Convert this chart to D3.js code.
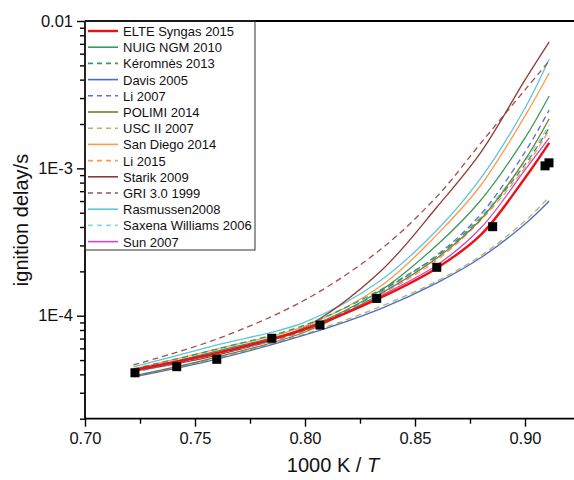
<!DOCTYPE html>
<html>
<head>
<meta charset="utf-8">
<script src="https://cdn.jsdelivr.net/npm/d3@7"></script>
<style>
  body { margin: 0; background: #fff; }
  text { font-family: "Liberation Sans", Arial, sans-serif; }
</style>
</head>
<body>
<div class="canvas"></div>
<script>
// 1000 K / T grid the model curves were read at
const invT = [0.722, 0.76, 0.80, 0.834, 0.86, 0.88, 0.90, 0.911];

// ignition delay (s) per mechanism
const elte2015     = [4.28e-5, 5.58e-5, 8.12e-5, 1.32e-4, 2.11e-4, 3.55e-4, 8.61e-4, 1.49e-3];
const nuig2010     = [4.21e-5, 5.76e-5, 8.25e-5, 1.47e-4, 3.02e-4, 6.10e-4, 1.61e-3, 3.10e-3];
const keromnes2013 = [4.35e-5, 5.94e-5, 8.65e-5, 1.49e-4, 2.54e-4, 4.61e-4, 1.06e-3, 1.88e-3];
const davis2005    = [3.84e-5, 5.08e-5, 7.40e-5, 1.11e-4, 1.67e-4, 2.48e-4, 4.19e-4, 6.01e-4];
const li2007       = [4.15e-5, 5.50e-5, 8.00e-5, 1.45e-4, 2.58e-4, 4.90e-4, 1.29e-3, 2.49e-3];
const polimi2014   = [3.90e-5, 5.24e-5, 7.75e-5, 1.40e-4, 2.46e-4, 4.52e-4, 1.14e-3, 2.17e-3];
const uscII2007    = [3.90e-5, 5.16e-5, 7.51e-5, 1.15e-4, 1.72e-4, 2.56e-4, 4.40e-4, 6.40e-4];
const sanDiego2014 = [4.35e-5, 5.94e-5, 8.51e-5, 1.57e-4, 3.55e-4, 7.71e-4, 2.27e-3, 4.44e-3];
const li2015       = [4.15e-5, 5.50e-5, 7.87e-5, 1.38e-4, 2.39e-4, 4.46e-4, 1.01e-3, 1.82e-3];
const starik2009   = [4.21e-5, 5.41e-5, 8.38e-5, 1.98e-4, 5.47e-4, 1.29e-3, 3.98e-3, 7.21e-3];
const gri30        = [4.63e-5, 6.95e-5, 1.28e-4, 2.79e-4, 6.45e-4, 1.49e-3, 3.41e-3, 5.36e-3];
const rasmussen    = [4.49e-5, 6.33e-5, 9.06e-5, 1.72e-4, 3.82e-4, 8.61e-4, 2.57e-3, 5.53e-3];
const saxena2006   = [4.28e-5, 5.76e-5, 8.12e-5, 1.43e-4, 2.50e-4, 4.75e-4, 1.11e-3, 1.97e-3];
const sun2007      = [4.21e-5, 5.58e-5, 8.00e-5, 1.36e-4, 2.21e-4, 3.95e-4, 9.75e-4, 1.61e-3];

// experimental points
const expX = [0.7227, 0.7417, 0.7599, 0.7849, 0.8068, 0.8326, 0.8599, 0.8853, 0.9091, 0.9109];
const expY = [4.10e-5, 4.51e-5, 5.06e-5, 7.03e-5, 8.65e-5, 1.31e-4, 2.13e-4, 4.02e-4, 1.04e-3, 1.09e-3];

const seriesNames = ['ELTE Syngas 2015', 'NUIG NGM 2010', 'Kéromnès 2013', 'Davis 2005', 'Li 2007',
  'POLIMI 2014', 'USC II 2007', 'San Diego 2014', 'Li 2015', 'Starik 2009', 'GRI 3.0 1999',
  'Rasmussen2008', 'Saxena Williams 2006', 'Sun 2007'];
const seriesValues = [elte2015, nuig2010, keromnes2013, davis2005, li2007, polimi2014, uscII2007,
  sanDiego2014, li2015, starik2009, gri30, rasmussen, saxena2006, sun2007];
const colours = ['#f01010', '#3a9a5e', '#3a9a5e', '#4d6cc4', '#5a6ed0', '#7b7a2e', '#b8b45e',
  '#ff9a4c', '#ff9a4c', '#8e3b38', '#a0504c', '#5cc6df', '#86d8ea', '#c24fc2'];
const dashed = [false, false, true, false, true, false, true, false, true, false, true, false, true, false];

const width = 574, height = 480;
const plotLeft = 85, plotTop = 21, plotBottom = 418.7, plotRight = 580;

const svg = d3.select('.canvas')
  .append('svg')
  .attr('width', width)
  .attr('height', height);

const x = d3.scaleLinear().domain([0.70, 0.925]).range([plotLeft, plotRight]);
const y = d3.scaleLog().domain([2e-5, 0.01]).range([plotBottom, plotTop]);

const line = d3.line()
  .x(d => x(d[0]))
  .y(d => y(d[1]))
  .curve(d3.curveCatmullRom.alpha(0.5));

// draw back to front so the red ELTE line sits on top
const order = d3.range(seriesValues.length).reverse();
order.forEach(i => {
  const pts = invT.map((t, k) => [t, seriesValues[i][k]]);
  svg.append('path')
    .datum(pts)
    .attr('fill', 'none')
    .attr('stroke', colours[i])
    .attr('stroke-width', i === 0 ? 2.4 : 1.3)
    .attr('stroke-dasharray', dashed[i] ? '6,4' : null)
    .attr('d', line);
});

// experiments
svg.selectAll('rect.exp')
  .data(expX.map((t, k) => [t, expY[k]]))
  .enter()
  .append('rect')
  .attr('class', 'exp')
  .attr('x', d => x(d[0]) - 4.5)
  .attr('y', d => y(d[1]) - 4.5)
  .attr('width', 9)
  .attr('height', 9)
  .attr('fill', '#000');

// axes
const majorY = [1e-4, 1e-3, 1e-2];
const minorY = [];
[1e-5, 1e-4, 1e-3].forEach(dec => {
  for (let m = 2; m <= 9; m++) {
    const v = m * dec;
    if (v >= 2e-5 && v < 0.01) minorY.push(v);
  }
});
const yLabels = ['1E-4', '1E-3', '0.01'];

const yAxisGroup = svg.append('g').attr('transform', `translate(${plotLeft},0)`);
yAxisGroup.call(d3.axisLeft(y).tickValues(minorY).tickSize(5).tickFormat(''));
yAxisGroup.append('g')
  .call(d3.axisLeft(y).tickValues(majorY).tickSize(8).tickPadding(4)
    .tickFormat((d, i) => yLabels[i]));

const majorX = [0.70, 0.75, 0.80, 0.85, 0.90];
const minorX = [0.725, 0.775, 0.825, 0.875, 0.925];

const xAxisGroup = svg.append('g').attr('transform', `translate(0,${plotBottom})`);
xAxisGroup.call(d3.axisBottom(x).tickValues(minorX).tickSize(5).tickFormat(''));
xAxisGroup.append('g')
  .call(d3.axisBottom(x).tickValues(majorX).tickSize(8).tickPadding(6)
    .tickFormat(d3.format('.2f')));

svg.selectAll('.domain').remove();
svg.selectAll('.tick line').attr('stroke', '#000').attr('stroke-width', 1.4);
svg.selectAll('.tick text').attr('font-size', 16.5).attr('fill', '#111')
  .style('font-family', '"Liberation Sans", Arial, sans-serif');

// frame
svg.append('line').attr('x1', plotLeft).attr('x2', plotLeft).attr('y1', plotTop).attr('y2', plotBottom)
  .attr('stroke', '#000').attr('stroke-width', 1.8);
svg.append('line').attr('x1', plotLeft).attr('x2', width).attr('y1', plotBottom).attr('y2', plotBottom)
  .attr('stroke', '#000').attr('stroke-width', 1.8);
svg.append('line').attr('x1', plotLeft).attr('x2', width).attr('y1', plotTop).attr('y2', plotTop)
  .attr('stroke', '#000').attr('stroke-width', 1.8);

// legend
const legendTop = 31, legendStep = 16.2;
svg.append('rect')
  .attr('x', plotLeft).attr('y', plotTop)
  .attr('width', 170).attr('height', 229)
  .attr('fill', 'none')
  .attr('stroke', '#333')
  .attr('stroke-width', 1);

const legend = svg.selectAll('.legend')
  .data(seriesNames)
  .enter()
  .append('g')
  .attr('class', 'legend')
  .attr('transform', (d, i) => `translate(${plotLeft + 3}, ${legendTop + i * legendStep})`);

legend.append('line')
  .attr('x1', 0).attr('x2', 30)
  .attr('stroke', (d, i) => colours[i])
  .attr('stroke-width', (d, i) => i === 0 ? 2.4 : 1.6)
  .attr('stroke-dasharray', (d, i) => dashed[i] ? '5,4' : null);

legend.append('text')
  .attr('x', 35)
  .attr('y', 5)
  .attr('font-size', 13)
  .attr('fill', '#111')
  .text(d => d);

// axis titles
svg.append('text')
  .attr('transform', `translate(28, 220) rotate(-90)`)
  .attr('text-anchor', 'middle')
  .attr('font-size', 20)
  .attr('fill', '#111')
  .text('ignition delay/s');

const xTitle = svg.append('text')
  .attr('x', 333)
  .attr('y', 472)
  .attr('text-anchor', 'middle')
  .attr('font-size', 20)
  .attr('fill', '#111');
xTitle.append('tspan').text('1000 K / ');
xTitle.append('tspan').attr('font-style', 'italic').text('T');
</script>
</body>
</html>
